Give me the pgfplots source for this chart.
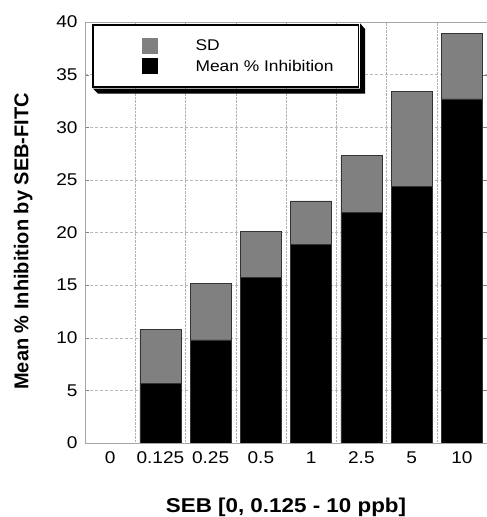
\documentclass[border=0pt]{standalone}
\usepackage{fontspec}
\setmainfont{Liberation Sans}
\newfontfamily\wide{Liberation Sans}[FakeStretch=1.12]
\usepackage{pgfplots}
\pgfplotsset{compat=1.18}
\usetikzlibrary{calc}

\begin{document}
\begin{tikzpicture}
\begin{axis}[
    scale only axis,
    width=402pt,
    height=421pt,
    ybar stacked,
    bar width=41pt,
    xmin=-0.5, xmax=7.5,
    ymin=0, ymax=40,
    xtick={0,...,7},
    xticklabels={0,0.125,0.25,0.5,1,2.5,5,10},
    minor xtick={0.5,1.5,...,6.5},
    xminorgrids,
    minor x grid style={gray!60, densely dotted},
    ytick={0,5,...,40},
    ymajorgrids,
    major y grid style={gray!55, dash pattern=on 3pt off 2pt},
    axis line style={gray!70},
    major x tick style={draw=none},
    minor x tick style={draw=none},
    ytick style={gray},
    tick align=inside,
    ytick pos=both,
    major tick length=4pt,
    /pgf/number format/assume math mode=true,
    ticklabel style={font=\wide\fontsize{17}{20}\selectfont},
    xticklabel style={yshift=-5pt},
    yticklabel style={xshift=-4pt},
    xlabel={SEB [0, 0.125 - 10 ppb]},
    ylabel={Mean \% Inhibition by SEB-FITC},
    xlabel style={font=\wide\bfseries\fontsize{20}{23}\selectfont,
        at={(axis description cs:0.5,-0.152)}, anchor=center},
    ylabel style={font=\bfseries\fontsize{20}{23}\selectfont,
        at={(axis description cs:-0.154,0.479)}, anchor=center},
    reverse legend,
    legend cell align=left,
    legend style={at={(axis description cs:0.018,0.995)}, anchor=north west,
        name=leg,
        draw=black, line width=1.5pt, fill=white,
        inner xsep=0pt, inner ysep=10.5pt,
        column sep=0pt, row sep=0pt,
        nodes={inner sep=0pt},
        font=\wide\fontsize{15.5}{18}\selectfont},
]
\addplot[fill=black, draw=black!80, line width=0.6pt,
    legend image code/.code={
        \path (0pt,-10pt) (102pt,10pt);
        \fill[black] (49pt,-7.5pt) rectangle (64pt,7.5pt);}]
    coordinates {(1,5.7) (2,9.8) (3,15.7) (4,18.9) (5,21.9) (6,24.4) (7,32.7)};
\addplot[fill=gray, draw=black!80, line width=0.6pt,
    legend image code/.code={
        \path (0pt,-10pt) (102pt,10pt);
        \fill[gray] (49pt,-7.5pt) rectangle (64pt,7.5pt);}]
    coordinates {(1,5.1) (2,5.4) (3,4.4) (4,4.1) (5,5.4) (6,9.0) (7,6.2)};
\legend{\makebox[163pt][l]{Mean \% Inhibition}, \makebox[163pt][l]{SD}}
\end{axis}
% drop shadow of the legend box
\fill[black] ($(leg.south west)+(0.75pt,-0.75pt)$) -- ++(5pt,-5pt) -- ($(leg.south east)+(5.75pt,-5.75pt)$)
    -- ($(leg.north east)+(5.75pt,-5pt)$) -- ($(leg.north east)+(0.75pt,0.75pt)$)
    -- ($(leg.south east)+(0.75pt,-0.75pt)$) -- cycle;
\pgfresetboundingbox
\path[use as bounding box] ($(current axis.south west)+(-85pt,-74pt)$) rectangle ($(current axis.north east)+(0pt,22pt)$);
\end{tikzpicture}
\end{document}
